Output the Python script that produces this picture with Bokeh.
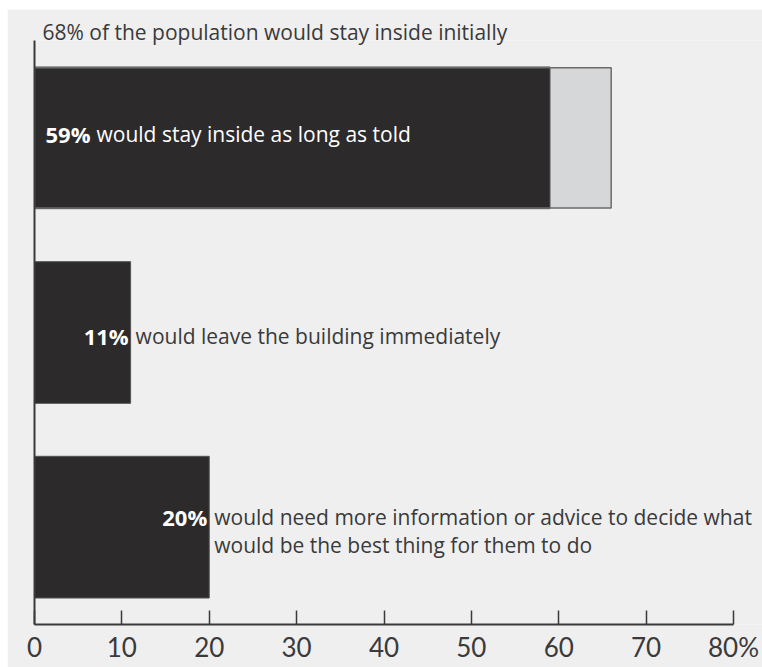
from bokeh.plotting import figure
from bokeh.models import ColumnDataSource, FixedTicker, Range1d
from bokeh.core.properties import value
from bokeh.embed import file_html
from bokeh.resources import INLINE

# ---------------- data ----------------
rows = ["stay_inside", "leave", "need_advice"]          # top to bottom
shares = [59, 11, 20]                                   # % per response
initial_share = 66                                      # grey bar end (stay inside initially)
pct_labels = ["59%", "11%", "20%"]
descriptions = [
    "would stay inside as long as told",
    "would leave the building immediately",
    "would need more information or advice to decide what\nwould be the best thing for them to do",
]
header = "68% of the population would stay inside initially"
x_ticks = [0, 10, 20, 30, 40, 50, 60, 70, 80]
x_tick_labels = ["0", "10", "20", "30", "40", "50", "60", "70", "80%"]

# ---------------- styles / layout ----------------
FONT = "Open Sans"
TICK_FONT = "Lato"
BG = "#efefef"
DARK = "#2c2a2b"
GREY = "#d6d7d9"
INK = "#3a3a3a"
pct_inside = [True, False, False]
pct_dx = [11, -2, -2]
desc_dx = [62, 5, 5]
base_dy = [-4, 3, -10]
line_gap = 28

FIG_W, FIG_H = 755, 658
BORDER_L, BORDER_T, BORDER_B = 27, 31, 43
AXIS_PX = 699                     # pixel length of the 0..80 axis
frame_w = FIG_W - BORDER_L
x_max = x_ticks[-1]
x_end = x_max * frame_w / AXIS_PX

n = len(rows)
ypos = [n - 0.5 - i for i in range(n)]   # slot centres, top row first

p = figure(width=FIG_W, height=FIG_H, margin=(9, 0, 0, 7),
           x_range=Range1d(0, x_end), y_range=Range1d(0, n),
           output_backend="svg", toolbar_location=None,
           min_border_left=BORDER_L, min_border_right=0, min_border_top=BORDER_T, min_border_bottom=BORDER_B,
           background_fill_color=BG, border_fill_color=BG, outline_line_color=None)
p.grid.visible = False

# header as title
p.title.text = header
p.title.align = "left"
p.title.offset = 8
p.title.standoff = -11
p.title.text_font = FONT
p.title.text_font_size = "21px"
p.title.text_font_style = "normal"
p.title.text_color = INK

# bars
p.hbar(y=[ypos[0]], left=0, right=[initial_share], height=0.72, fill_color=GREY, line_color=None)
src = ColumnDataSource(dict(y=ypos, share=shares))
p.hbar(y="y", left=0, right="share", height=0.728, source=src,
       fill_color=DARK, line_color="#555555", line_width=1)
p.hbar(y=[ypos[0]], left=0, right=[initial_share], height=0.72, fill_color=None,
       line_color="#6b6b6b", line_width=1.5)

# percentage labels
px, pal, pxo, pyo = [], [], [], []
for i in range(n):
    px.append(0 if pct_inside[i] else shares[i])
    pal.append("left" if pct_inside[i] else "right")
    pxo.append(pct_dx[i])
    pyo.append(base_dy[i])
p.text(x="x", y="y", text="t", source=ColumnDataSource(dict(x=px, y=ypos, t=pct_labels, a=pal, xo=pxo, yo=pyo)),
       text_align="a", x_offset="xo", y_offset="yo", text_baseline="alphabetic",
       text_font=value(FONT), text_font_style="bold", text_font_size="22px", text_color="#ffffff")

# descriptions
dx, dy, dt, dxo, dyo, dc = [], [], [], [], [], []
for i in range(n):
    for k, line in enumerate(descriptions[i].split("\n")):
        dx.append(0 if pct_inside[i] else shares[i])
        dy.append(ypos[i])
        dt.append(line)
        dxo.append(desc_dx[i])
        dyo.append(base_dy[i] + k * line_gap)
        dc.append("#ffffff" if pct_inside[i] else INK)
p.text(x="x", y="y", text="t", source=ColumnDataSource(dict(x=dx, y=dy, t=dt, xo=dxo, yo=dyo, c=dc)),
       x_offset="xo", y_offset="yo", text_baseline="alphabetic", text_align="left",
       text_font=value(FONT), text_font_size="21px", text_color="c")

# x axis
xa = p.xaxis[0]
xa.bounds = (x_ticks[0], x_max)
xa.ticker = FixedTicker(ticks=x_ticks)
xa.major_label_overrides = {t: l for t, l in zip(x_ticks, x_tick_labels)}
xa.major_tick_in = 14
xa.major_tick_out = 0
xa.minor_tick_in = 0
xa.minor_tick_out = 0
xa.axis_line_width = 2
xa.axis_line_color = INK
xa.major_tick_line_color = INK
xa.major_tick_line_width = 1.5
xa.major_label_text_font = TICK_FONT
xa.major_label_text_font_size = "26px"
xa.major_label_text_color = INK
xa.major_label_standoff = 6

# y axis: plain line only
ya = p.yaxis[0]
ya.ticker = FixedTicker(ticks=[])
ya.major_tick_in = 0
ya.major_tick_out = 0
ya.minor_tick_in = 0
ya.minor_tick_out = 0
ya.major_label_standoff = 0
ya.axis_line_width = 2
ya.axis_line_color = INK

open("out.html", "w").write(file_html(p, INLINE))
